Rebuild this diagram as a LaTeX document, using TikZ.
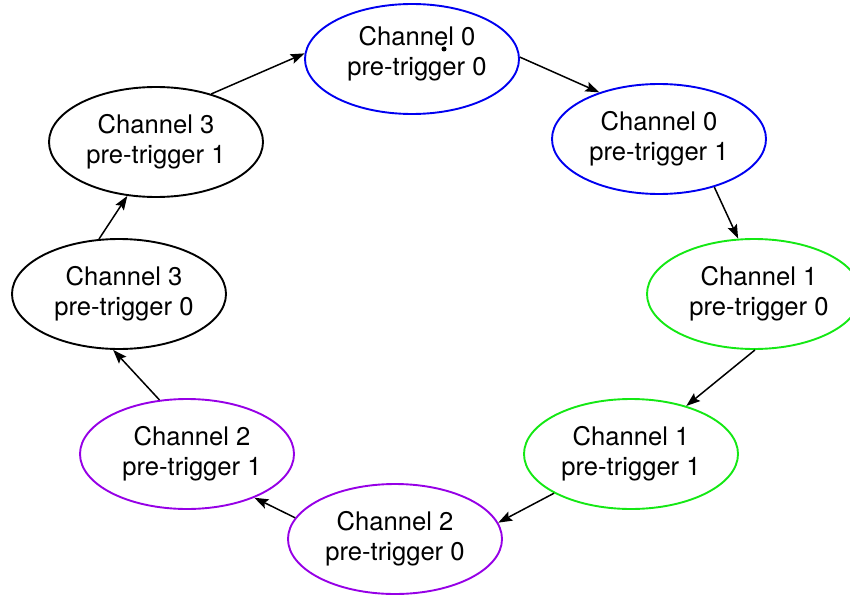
\documentclass[tikz,border=0pt]{standalone}
\usepackage{fontspec}
\setmainfont{TeX Gyre Heros}
\usetikzlibrary{shapes.geometric,arrows.meta}
\definecolor{cblue}{RGB}{0,0,240}
\definecolor{cgreen}{RGB}{20,232,20}
\definecolor{cpurple}{RGB}{150,0,230}
\newcommand{\rs}{\hspace*{10pt}}
\tikzset{
  state/.style={ellipse, draw, line width=1.9pt, minimum width=214pt, minimum height=110pt,
    inner sep=0pt, align=center, font=\fontsize{25.6pt}{30pt}\selectfont},
  link/.style={line width=1.5pt, -{Stealth[length=14pt,width=10pt,inset=2.5pt]}}
}
\begin{document}
\begin{tikzpicture}[x=1pt,y=-1pt]
\clip (0,0) rectangle (850,596);
\node[state, draw=cblue] (E1) at (412,59) {\rs Channel 0\\\rs pre-trigger 0\rule[-16pt]{0pt}{16pt}};
\node[state, draw=cblue] (E2) at (659,139) {Channel 0\\pre-trigger 1};
\node[state, draw=cgreen] (E3) at (754,294) {\rs Channel 1\\\rs pre-trigger 0};
\node[state, draw=cgreen] (E4) at (631,454) {Channel 1\\pre-trigger 1};
\node[state, draw=cpurple] (E5) at (395,539) {Channel 2\\pre-trigger 0};
\node[state, draw=cpurple] (E6) at (187,454) {\rs Channel 2\\\rs pre-trigger 1};
\node[state, draw=black] (E7) at (119,294) {\rs Channel 3\\\rs pre-trigger 0};
\node[state, draw=black] (E8) at (156,142) {Channel 3\\pre-trigger 1};
\node[circle, fill=black, inner sep=0pt, minimum size=5pt] (dot) at (444,49) {};
\draw[link] (E8.41.8) -- (E1.177);
\draw[link] (E1.1.6) -- (E2.142.5);
\draw[link] (E2.-41.4) -- (E3.106);
\draw[link] (E3.-89) -- (E4.41.9);
\draw[link] (E4.-153) -- (E5.9.2);
\draw[link] (E5.168.9) -- (E6.-33.5);
\draw[link] (E6.117.8) -- (E7.-96.7);
\draw[link] (E7.110.8) -- (E8.-118.6);
\end{tikzpicture}
\end{document}
